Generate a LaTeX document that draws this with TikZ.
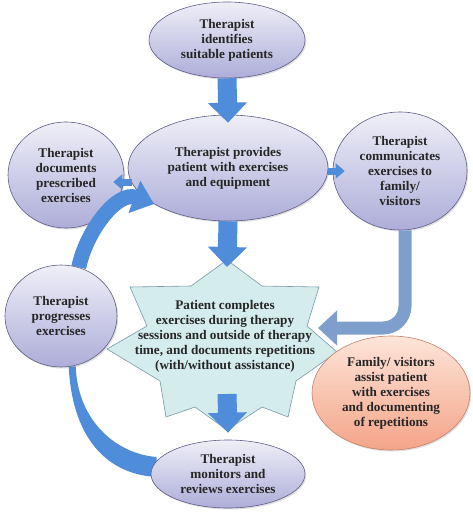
\documentclass[tikz,border=0pt]{standalone}
\usepackage{fontspec}
\setmainfont{Liberation Serif}
\usepackage{tikz}
\usetikzlibrary{arrows.meta,shapes.geometric,shadows,backgrounds}
\definecolor{bubbletop}{HTML}{EFEFF8}
\definecolor{bubblebottom}{HTML}{ADADD9}
\definecolor{bubbleedge}{HTML}{5E5E88}
\definecolor{familytop}{HTML}{FDE5D9}
\definecolor{familybottom}{HTML}{F4A488}
\definecolor{familyedge}{HTML}{C4846A}
\definecolor{starfill}{HTML}{D4ECEC}
\definecolor{staredge}{HTML}{7A9AA8}
\definecolor{flowblue}{HTML}{4F8CDA}
\definecolor{returnblue}{HTML}{7E9FCC}

\begin{document}
\begin{tikzpicture}[x=1pt, y=-1pt,
    bubble/.style={ellipse, draw=bubbleedge, line width=0.6pt, top color=bubbletop,
      bottom color=bubblebottom, inner sep=0pt, align=center, text=black!85,
      font=\fontsize{13.2}{15}\selectfont\bfseries,
      drop shadow={shadow xshift=1.2pt, shadow yshift=-1.5pt, opacity=0.25}},
    familybubble/.style={bubble, draw=familyedge, top color=familytop, bottom color=familybottom},
    starbox/.style={draw=staredge, line width=0.6pt, fill=starfill, line join=miter},
    bigarrow/.style={draw=flowblue, line width=19pt, -{Triangle[length=20pt, width=38pt]}},
    smallarrow/.style={draw=flowblue, line width=7pt, -{Triangle[length=9pt, width=15pt]}},
    curvearrow/.style={draw=flowblue, line width=15pt, -{Triangle[length=21pt, width=33pt]}},
    returnarrow/.style={draw=returnblue, line width=13pt, rounded corners=22pt,
      -{Triangle[length=19pt, width=34pt]}},
    loopband/.style={fill=flowblue}
  ]
    \useasboundingbox (0,0) rectangle (472,516);

    % outer bubbles
    \node[bubble, minimum width=156pt, minimum height=76pt] (ident) at (227,40)
      {Therapist\\identifies\\suitable patients};
    \node[bubble, minimum width=200pt, minimum height=106pt] (provide) at (228,168)
      {Therapist provides\\patient with exercises\\and equipment};
    \node[bubble, minimum width=116pt, minimum height=106pt] (docs) at (66,175)
      {Therapist\\documents\\prescribed\\exercises};
    \node[bubble, minimum width=134pt, minimum height=118pt] (comm) at (400,171)
      {Therapist\\communicates\\exercises to\\family/\\visitors};
    \node[bubble, minimum width=112pt, minimum height=102pt] (prog) at (61,316)
      {Therapist\\progresses\\exercises};
    \node[bubble, minimum width=154pt, minimum height=68pt] (monitor) at (228,474)
      {Therapist\\monitors and\\reviews exercises};

    % the star
    \draw[starbox] (227,260) coordinate (startop) -- (262,286) -- (319,287) -- (307,326)
      -- (337,352) -- (296,381) -- (288,417) -- (262,407) -- (227,430) coordinate (starbot)
      -- (195,407) -- (166,417) -- (160,381) -- (107,349) -- (147,326) -- (130,287)
      -- (191,286) -- cycle;
    \node[align=center, text=black!85, font=\fontsize{13.2}{15}\selectfont\bfseries]
      (patient) at (225,336) {Patient completes\\exercises during therapy\\sessions and outside of therapy\\time, and documents repetitions\\(with/without assistance)};

    \node[familybubble, minimum width=158pt, minimum height=114pt] (family) at (391,393)
      {Family/ visitors\\assist patient\\with exercises\\and documenting\\of repetitions};

    \coordinate (famin) at (318,328);

    % flow arrows
    \draw[bigarrow] (ident.south) -- ([yshift=-8pt]provide.north);
    \draw[bigarrow] (provide.south) -- ([yshift=-7pt]startop);
    \draw[bigarrow] ([yshift=36pt]starbot) -- ([yshift=7pt]monitor.north);
    \draw[smallarrow] ([xshift=4pt, yshift=-14pt]provide.west) -- ([xshift=-11pt, yshift=-7pt]docs.east);
    \draw[smallarrow] ([yshift=-3pt]provide.east) -- ([xshift=12pt]comm.west);
    \draw[returnarrow] ([xshift=5pt]comm.south) |- (famin);
    \draw[curvearrow] (prog.70) to[out=78, in=160] (provide.206);

    \begin{scope}[on background layer]
      \fill[white] (0,0) rectangle (472,516);
      \fill[loopband] ([xshift=-3pt]prog.-78) .. controls +(3,65) and +(-55,-3) ..
        ([yshift=-3pt, xshift=6pt]monitor.west) -- ([yshift=17pt, xshift=6pt]monitor.west)
        .. controls +(-40,-3) and +(2,55) .. ([xshift=4pt]prog.-78) -- cycle;
    \end{scope}
  \end{tikzpicture}
\end{document}
